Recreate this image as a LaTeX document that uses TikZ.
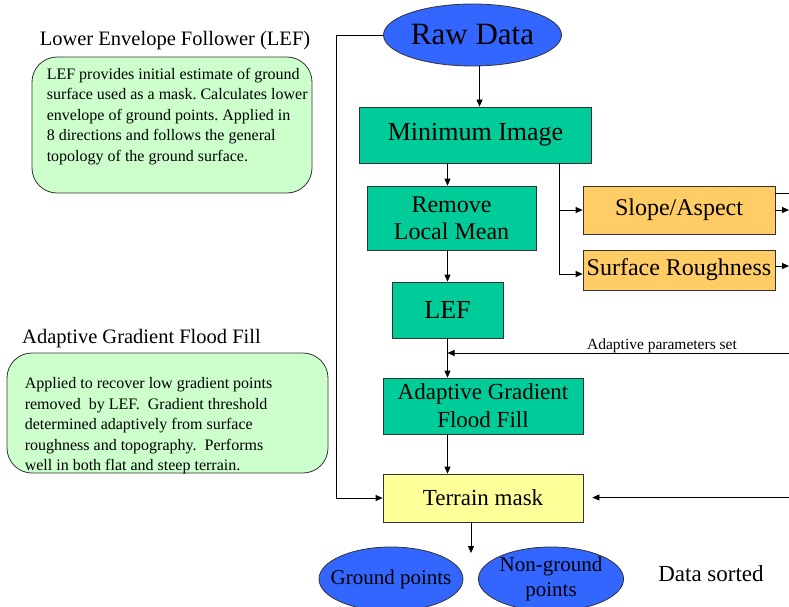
\documentclass[tikz,border=0pt]{standalone}
\usepackage{fontspec}
\setmainfont{Liberation Serif}
\usepackage{tikz}
\usetikzlibrary{arrows.meta,positioning,shapes}

\definecolor{procgreen}{RGB}{0,204,153}
\definecolor{databblue}{RGB}{51,102,255}
\definecolor{paramorange}{RGB}{255,204,102}
\definecolor{maskyellow}{RGB}{255,255,153}
\definecolor{notegreen}{RGB}{204,255,204}

\begin{document}
\begin{tikzpicture}[
    x=1pt, y=-1pt,
    procbox/.style = {rectangle, draw=black!80, line width=0.8pt, fill=procgreen, inner sep=2pt, align=center},
    parambox/.style = {rectangle, draw=black!80, line width=0.8pt, fill=paramorange, inner sep=2pt,
        minimum width=192pt, font=\fontsize{24}{28}\selectfont},
    oval/.style = {ellipse, draw=black!80, line width=0.8pt, fill=databblue, inner sep=0pt, align=center},
    note/.style = {rectangle, rounded corners=25pt, draw=black!80, line width=0.8pt, fill=notegreen},
    notetext/.style = {anchor=north west, inner sep=0pt, align=left,
        font=\fontsize{16}{20.4}\selectfont\frenchspacing},
    heading/.style = {font=\fontsize{20.5}{24}\selectfont},
    arrow/.style = {->, >={Triangle[length=7pt,width=6pt]}, line width=0.8pt}
]
\useasboundingbox (0,0) rectangle (789,607);

% Input data
\node[oval, minimum width=178pt, minimum height=62pt, font=\fontsize{31}{36}\selectfont] (raw) at (472.5,35) {Raw Data};

% Processing chain
\node[procbox, minimum width=232pt, minimum height=56pt, font=\fontsize{26}{30}\selectfont] (minimg) at (475.5,135) {Minimum Image};
\node[procbox, minimum width=169pt, minimum height=64pt, font=\fontsize{24}{27}\selectfont] (rlm) at (451.5,218) {Remove\\ Local Mean};
\node[procbox, minimum width=111pt, minimum height=56pt, font=\fontsize{26}{30}\selectfont] (lef) at (447.5,310) {LEF};
\node[procbox, minimum width=200pt, minimum height=56pt, font=\fontsize{23}{28}\selectfont] (agff) at (483,406) {Adaptive Gradient\\ Flood Fill};
\node[procbox, fill=maskyellow, minimum width=200pt, minimum height=48pt, font=\fontsize{23}{28}\selectfont] (mask) at (483,498) {Terrain mask};

% Surface parameters
\node[parambox, minimum height=48pt] (slope) at (679,210) {Slope/Aspect};
\node[parambox, minimum height=40pt] (rough) at (679,270) {Surface Roughness};
\node[font=\fontsize{15.5}{18}\selectfont] (paramlbl) at (662,346) {Adaptive parameters set};

% Output layer
\node[oval, minimum width=144pt, minimum height=64pt, font=\fontsize{21}{25}\selectfont] (ground) at (391,579) {\makebox[96pt]{Ground points}};
\node[oval, minimum width=144pt, minimum height=64pt, font=\fontsize{21}{25}\selectfont] (nonground) at (551,579) {Non-ground\\ points};
\node[font=\fontsize{23}{28}\selectfont] (sorted) at (711,574) {Data sorted};

% Notes
\node[heading] (lefhead) at (175,41) {Lower Envelope Follower (LEF)};
\node[note, minimum width=280pt, minimum height=136pt] (lefnote) at (172,125) {};
\node[notetext] (leftext) at ([xshift=15pt, yshift=-11.5pt]lefnote.north west)
    {LEF provides initial estimate of ground\\ surface used as a mask. Calculates lower\\ envelope of ground points. Applied in\\ 8 directions and follows the general\\ topology of the ground surface.};
\node[heading] (agffhead) at (141.5,339) {Adaptive Gradient Flood Fill};
\node[note, minimum width=321pt, minimum height=120pt] (agffnote) at (167.5,413) {};
\node[notetext] (agfftext) at ([xshift=18pt, yshift=-25pt]agffnote.north west)
    {Applied to recover low gradient points\\ removed\ \ by LEF.\ \ Gradient threshold\\ determined adaptively from surface\\ roughness and topography.\ \ Performs\\ well in both flat and steep terrain.};

% Free ends at the right edge
\coordinate (rightedge) at (789,0);
\coordinate (paramsin) at (789,353);
\coordinate (maskin) at (789,497.5);
\coordinate (sortpt) at (471,553);

% Arrows
\draw[arrow] ([xshift=7pt]raw.south) -- ([xshift=7pt]raw.south |- minimg.north);
\draw[arrow] (minimg.south -| lef) -- (rlm.north -| lef);
\draw[arrow] (rlm.south -| lef) -- (lef);
\draw[arrow] (lef) -- (agff.north -| lef);
\draw[arrow] (agff.south -| lef) -- (mask.north -| lef);
\draw[arrow] (mask.south -| sortpt) -- (sortpt);

% Branch to surface parameters
\draw[arrow] ([xshift=83.5pt]minimg.south) |- ([yshift=-4pt]rough.west);
\draw[arrow] ([xshift=83.5pt]minimg.south) |- (slope.west);
\draw[line width=0.8pt] ([yshift=-8pt]slope.north east) -- ([yshift=-8pt]slope.north east -| rightedge);
\draw[arrow] (slope.east) -- (slope.east -| rightedge);
\draw[arrow] ([yshift=4pt]rough.east) -- ([yshift=4pt]rough.east -| rightedge);

% Feedback lines
\draw[arrow] (paramsin) -- (paramsin -| lef);
\draw[arrow, shorten >=9pt] (maskin) -- (maskin -| mask.east);
\draw[arrow] (raw.west) -- ([xshift=-47pt]raw.west) |- (mask.west);

\end{tikzpicture}
\end{document}
